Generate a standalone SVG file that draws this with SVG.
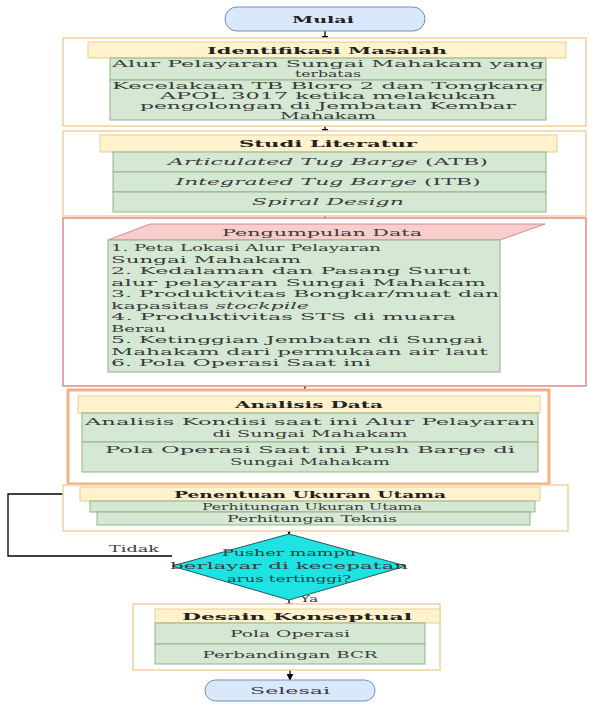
<svg xmlns="http://www.w3.org/2000/svg" width="589" height="706" viewBox="0 0 589 706">
<defs>
<marker id="ah" viewBox="0 0 10 10" refX="9" refY="5" markerWidth="7" markerHeight="7" orient="auto" markerUnits="userSpaceOnUse"><path d="M0,0 L10,5 L0,10 z" fill="#000"/></marker>
<style>
.outer{fill:#fff;stroke:#f5cf9e;stroke-width:1.5}
.outerR{fill:#fff;stroke:#e8868a;stroke-width:1.5}
.outerO{fill:#fff;stroke:#f4b183;stroke-width:3}
.hdr{fill:#fff2cc;stroke:#e6cf93;stroke-width:1}
.row{fill:#d5e8d4;stroke:#93b385;stroke-width:1}
.pill{fill:#dae8fc;stroke:#6c8ebf;stroke-width:1}
.t{font-family:"DejaVu Serif","Liberation Serif",serif;font-size:10px;fill:#3a3a3a;text-anchor:middle}
.s{font-size:9.5px}
.l{text-anchor:start}
.b{font-weight:bold;fill:#222}
.i{font-style:italic}
.c{stroke:#000;stroke-width:1.3;fill:none}
</style>
</defs>
<g id="connectors">
<line class="c" x1="325" y1="31" x2="325" y2="42" marker-end="url(#ah)"/>
<line class="c" x1="325" y1="120" x2="325" y2="135" marker-end="url(#ah)"/>
<line class="c" x1="325" y1="212" x2="325" y2="224" marker-end="url(#ah)"/>
<line class="c" x1="305" y1="372" x2="305" y2="396" marker-end="url(#ah)"/>
<line class="c" x1="310" y1="472" x2="310" y2="487" marker-end="url(#ah)"/>
<line class="c" x1="289" y1="525" x2="289" y2="534" marker-end="url(#ah)"/>
<line class="c" x1="289" y1="600" x2="289" y2="609" marker-end="url(#ah)"/>
<line class="c" x1="290" y1="664" x2="290" y2="680" marker-end="url(#ah)"/>
<polyline class="c" points="172,556 8,556 8,494 79,494" marker-end="url(#ah)"/>
<text class="t" x="134" y="552" textLength="50" lengthAdjust="spacingAndGlyphs">Tidak</text>
<text class="t" x="309" y="602" textLength="18" lengthAdjust="spacingAndGlyphs">Ya</text>
</g>
<g id="mulai">
<rect class="pill" x="225" y="7" width="200" height="24" rx="12"/>
<text class="t b" x="323" y="23" textLength="62" lengthAdjust="spacingAndGlyphs">Mulai</text>
</g>
<g id="identifikasi">
<rect class="outer" x="63" y="38" width="523" height="88"/>
<rect class="hdr" x="88" y="42" width="478" height="16"/>
<text class="t b" x="327" y="54" textLength="240" lengthAdjust="spacingAndGlyphs">Identifikasi Masalah</text>
<rect class="row" x="110" y="58" width="436" height="22"/>
<text class="t s" x="328" y="67" textLength="432" lengthAdjust="spacingAndGlyphs">Alur Pelayaran Sungai Mahakam yang</text>
<text class="t s" x="328" y="77" textLength="66" lengthAdjust="spacingAndGlyphs">terbatas</text>
<rect class="row" x="110" y="80" width="436" height="40"/>
<text class="t s" x="328" y="89" textLength="432" lengthAdjust="spacingAndGlyphs">Kecelakaan TB Bloro 2 dan Tongkang</text>
<text class="t s" x="328" y="99" textLength="336" lengthAdjust="spacingAndGlyphs">APOL 3017 ketika melakukan</text>
<text class="t s" x="328" y="109" textLength="376" lengthAdjust="spacingAndGlyphs">pengolongan di Jembatan Kembar</text>
<text class="t s" x="328" y="119" textLength="96" lengthAdjust="spacingAndGlyphs">Mahakam</text>
</g>
<g id="studi">
<rect class="outer" x="63" y="131" width="523" height="85"/>
<rect class="hdr" x="100" y="135" width="457" height="17"/>
<text class="t b" x="328" y="147" textLength="178" lengthAdjust="spacingAndGlyphs">Studi Literatur</text>
<rect class="row" x="113" y="152" width="433" height="20"/>
<text class="t" x="328" y="165" textLength="320" lengthAdjust="spacingAndGlyphs"><tspan class="i">Articulated Tug Barge</tspan> (ATB)</text>
<rect class="row" x="113" y="172" width="433" height="20"/>
<text class="t" x="328" y="185" textLength="305" lengthAdjust="spacingAndGlyphs"><tspan class="i">Integrated Tug Barge</tspan> (ITB)</text>
<rect class="row" x="113" y="192" width="433" height="20"/>
<text class="t i" x="328" y="205" textLength="152" lengthAdjust="spacingAndGlyphs">Spiral Design</text>
</g>
<g id="pengumpulan">
<rect class="outerR" x="63" y="218" width="523" height="168"/>
<polygon points="108,240 150,224 545,224 500,240" fill="#f8cecc" stroke="#d9878a" stroke-width="1"/>
<text class="t" x="322" y="236" textLength="200" lengthAdjust="spacingAndGlyphs">Pengumpulan Data</text>
<rect class="row" x="108" y="240" width="392" height="132"/>
<text class="t l" x="111" y="251" textLength="270" lengthAdjust="spacingAndGlyphs">1. Peta Lokasi Alur Pelayaran</text>
<text class="t l" x="111" y="262.5" textLength="190" lengthAdjust="spacingAndGlyphs">Sungai Mahakam</text>
<text class="t l" x="111" y="274" textLength="360" lengthAdjust="spacingAndGlyphs">2. Kedalaman dan Pasang Surut</text>
<text class="t l" x="111" y="285.5" textLength="375" lengthAdjust="spacingAndGlyphs">alur pelayaran Sungai Mahakam</text>
<text class="t l" x="111" y="297" textLength="388" lengthAdjust="spacingAndGlyphs">3. Produktivitas Bongkar/muat dan</text>
<text class="t l" x="111" y="308.5" textLength="198" lengthAdjust="spacingAndGlyphs">kapasitas <tspan class="i">stockpile</tspan></text>
<text class="t l" x="111" y="320" textLength="345" lengthAdjust="spacingAndGlyphs">4. Produktivitas STS di muara</text>
<text class="t l" x="111" y="331.5" textLength="55" lengthAdjust="spacingAndGlyphs">Berau</text>
<text class="t l" x="111" y="343" textLength="372" lengthAdjust="spacingAndGlyphs">5. Ketinggian Jembatan di Sungai</text>
<text class="t l" x="111" y="354.5" textLength="377" lengthAdjust="spacingAndGlyphs">Mahakam dari permukaan air laut</text>
<text class="t l" x="111" y="366" textLength="260" lengthAdjust="spacingAndGlyphs">6. Pola Operasi Saat ini</text>
</g>
<g id="analisis">
<rect class="outerO" x="68" y="390" width="481" height="94"/>
<rect class="hdr" x="78" y="396" width="462" height="17"/>
<text class="t b" x="309" y="408" textLength="148" lengthAdjust="spacingAndGlyphs">Analisis Data</text>
<rect class="row" x="82" y="413" width="456" height="29"/>
<text class="t" x="310" y="425" textLength="450" lengthAdjust="spacingAndGlyphs">Analisis Kondisi saat ini Alur Pelayaran</text>
<text class="t" x="310" y="437" textLength="195" lengthAdjust="spacingAndGlyphs">di Sungai Mahakam</text>
<rect class="row" x="82" y="442" width="456" height="30"/>
<text class="t" x="310" y="453" textLength="410" lengthAdjust="spacingAndGlyphs">Pola Operasi Saat ini Push Barge di</text>
<text class="t" x="310" y="465" textLength="160" lengthAdjust="spacingAndGlyphs">Sungai Mahakam</text>
</g>
<g id="penentuan">
<rect class="outer" x="63" y="485" width="505" height="46"/>
<rect class="hdr" x="80" y="487" width="460" height="14"/>
<text class="t b" x="310" y="498" textLength="272" lengthAdjust="spacingAndGlyphs">Penentuan Ukuran Utama</text>
<rect class="row" x="90" y="501" width="445" height="11"/>
<text class="t s" x="312" y="510" textLength="220" lengthAdjust="spacingAndGlyphs">Perhitungan Ukuran Utama</text>
<rect class="row" x="97" y="512" width="433" height="13"/>
<text class="t s" x="312" y="522" textLength="170" lengthAdjust="spacingAndGlyphs">Perhitungan Teknis</text>
</g>
<g id="keputusan">
<polygon points="289,534 406,566 289,600 172,566" fill="#1ee3e3" stroke="#2a5a5a" stroke-width="1"/>
<text class="t" x="289" y="556" textLength="134" lengthAdjust="spacingAndGlyphs">Pusher mampu</text>
<text class="t" x="289" y="569" textLength="238" lengthAdjust="spacingAndGlyphs">berlayar di kecepatan</text>
<text class="t" x="289" y="582" textLength="124" lengthAdjust="spacingAndGlyphs">arus tertinggi?</text>
</g>
<g id="desain">
<rect class="outer" x="133" y="604" width="307" height="66"/>
<rect class="hdr" x="155" y="609" width="285" height="14"/>
<text class="t b" x="297" y="620" textLength="230" lengthAdjust="spacingAndGlyphs">Desain Konseptual</text>
<rect class="row" x="155" y="623" width="270" height="21"/>
<text class="t" x="290" y="637" textLength="120" lengthAdjust="spacingAndGlyphs">Pola Operasi</text>
<rect class="row" x="155" y="644" width="270" height="20"/>
<text class="t" x="290" y="658" textLength="175" lengthAdjust="spacingAndGlyphs">Perbandingan BCR</text>
</g>
<g id="selesai">
<rect class="pill" x="205" y="680" width="170" height="21" rx="10.5"/>
<text class="t" x="290" y="694" textLength="80" lengthAdjust="spacingAndGlyphs">Selesai</text>
</g>
</svg>
